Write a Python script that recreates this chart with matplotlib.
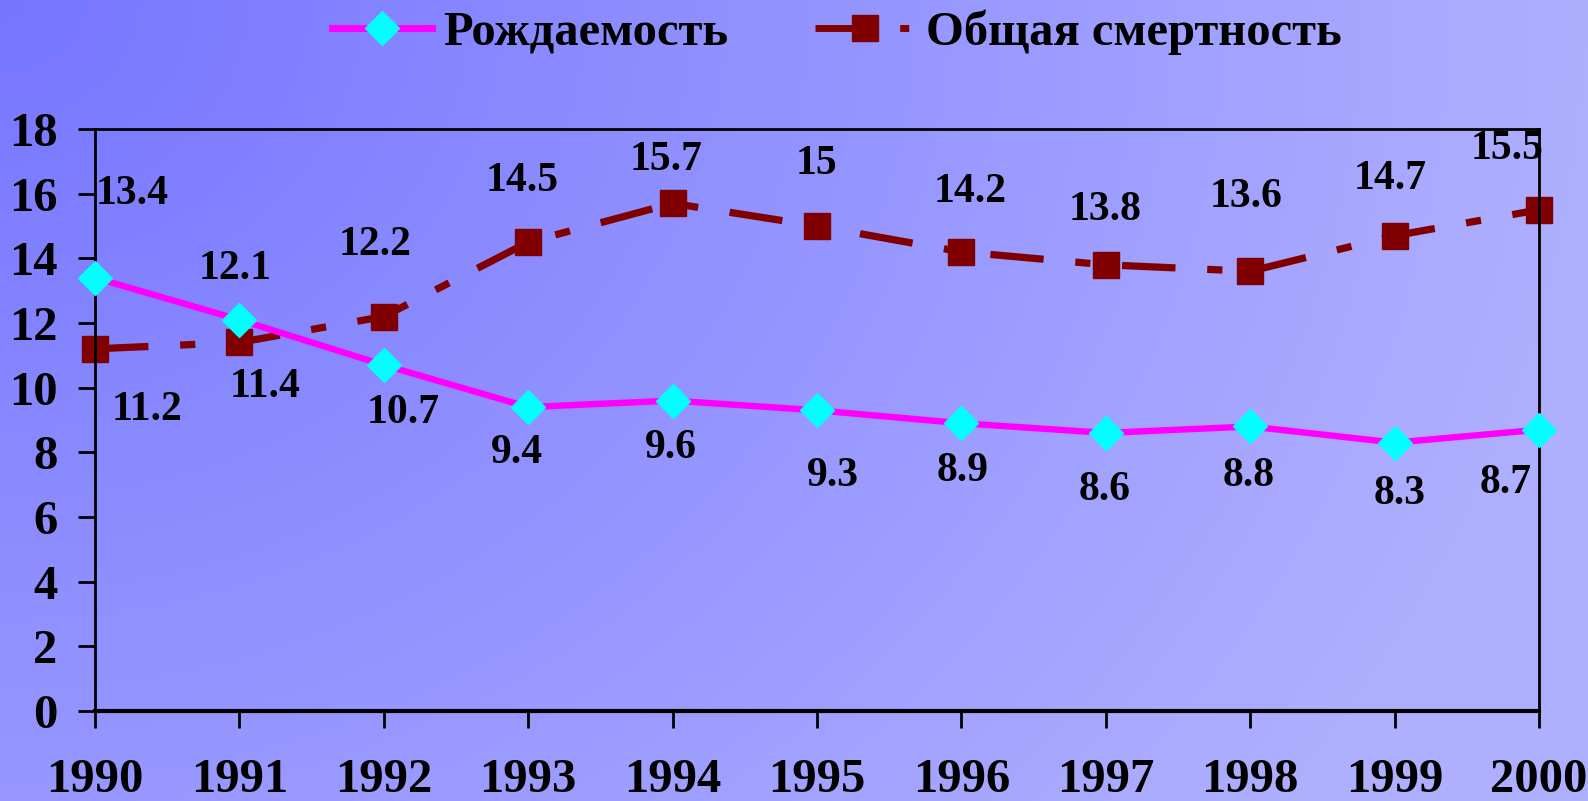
import matplotlib.pyplot as plt
import numpy as np
from matplotlib.lines import Line2D

years = [1990, 1991, 1992, 1993, 1994, 1995, 1996, 1997, 1998, 1999, 2000]
birth = [13.4, 12.1, 10.7, 9.4, 9.6, 9.3, 8.9, 8.6, 8.8, 8.3, 8.7]
death = [11.2, 11.4, 12.2, 14.5, 15.7, 15, 14.2, 13.8, 13.6, 14.7, 15.5]
birth_name = "Рождаемость"
death_name = "Общая смертность"

# label offsets in pixels (dx, dy)
birth_off = [(37, 83), (-4, 50), (19, -47), (-11, -45), (-2, -47), (16, -65),
             (1, -47), (-1, -56), (-2, -49), (5, -51), (-33, -53)]
death_off = [(51, -60), (25, -44), (-9, 71), (-6, 60), (-6, 43), (-1, 61),
             (9, 59), (-1, 54), (-4, 73), (-4, 56), (-32, 60)]

plt.rcParams['font.family'] = ['Liberation Serif', 'DejaVu Serif']
plt.rcParams['font.weight'] = 'bold'

fig = plt.figure(figsize=(15.88, 8.01), dpi=100)

# background gradient
bg = fig.add_axes([0, 0, 1, 1], zorder=-10)
h, w = 801, 1588
yy, xx = np.mgrid[0:h, 0:w]
d = np.sqrt((xx / w) ** 2 * 1.0 + (yy / h) ** 2 * 0.35)
t = np.clip(d / 1.0, 0, 1)
c0 = np.array([118, 118, 255]) / 255.0
c1 = np.array([175, 175, 255]) / 255.0
img = c0[None, None, :] * (1 - t[..., None]) + c1[None, None, :] * t[..., None]
bg.imshow(img, aspect='auto', extent=[0, 1, 0, 1])
bg.axis('off')

ax = fig.add_axes([95 / 1588, 1 - 711 / 801, (1539 - 95) / 1588, (711 - 129) / 801])
ax.patch.set_alpha(0)

ax.plot(years, birth, color='#FF00FF', lw=4.6, marker='D', ms=17,
        mfc='#00FFFF', mec='#00FFFF', zorder=3, clip_on=False)
ax.plot(years, death, color='#800000', lw=5.2, marker='s', ms=19,
        mfc='#800000', mec='#800000', dashes=(7.4, 4.4, 2.1, 4.4), zorder=2, clip_on=False)

for x, v, (dx, dy) in zip(years, birth, birth_off):
    ax.annotate(str(v), (x, v), xytext=(dx * 1.013, dy * 1.013), textcoords='offset pixels',
                ha='center', va='center', fontsize=30, fontweight='bold')
for x, v, (dx, dy) in zip(years, death, death_off):
    ax.annotate(str(v), (x, v), xytext=(dx * 1.013, dy * 1.013), textcoords='offset pixels',
                ha='center', va='center', fontsize=30, fontweight='bold')

ax.set_xlim(1990, 2000)
ax.set_ylim(0, 18)
ax.set_xticks(years)
ax.set_yticks(range(0, 19, 2))
ax.tick_params(axis='both', direction='out', length=12, width=2, labelsize=35)
ax.tick_params(axis='y', pad=15)
ax.tick_params(axis='x', pad=22)
for lab in ax.get_xticklabels() + ax.get_yticklabels():
    lab.set_fontweight('bold')
for s in ['left', 'top', 'right']:
    ax.spines[s].set_linewidth(2)
ax.spines['bottom'].set_linewidth(3)

handles = [
    Line2D([], [], color='#FF00FF', lw=5, marker='D', ms=17, mfc='#00FFFF', mec='#00FFFF'),
    Line2D([], [], color='#800000', lw=5, marker='s', ms=19, mfc='#800000', mec='#800000',
           dashes=(7.3, 4.9, 1.3, 4.9)),
]
fig.legend(handles, [birth_name, death_name], loc='center', bbox_to_anchor=(0.527, 0.960),
           ncol=2, frameon=False, handlelength=2.04, columnspacing=1.8,
           handletextpad=0.23, prop={'weight': 'bold', 'size': 35})

fig.savefig('out.png', dpi=100)
